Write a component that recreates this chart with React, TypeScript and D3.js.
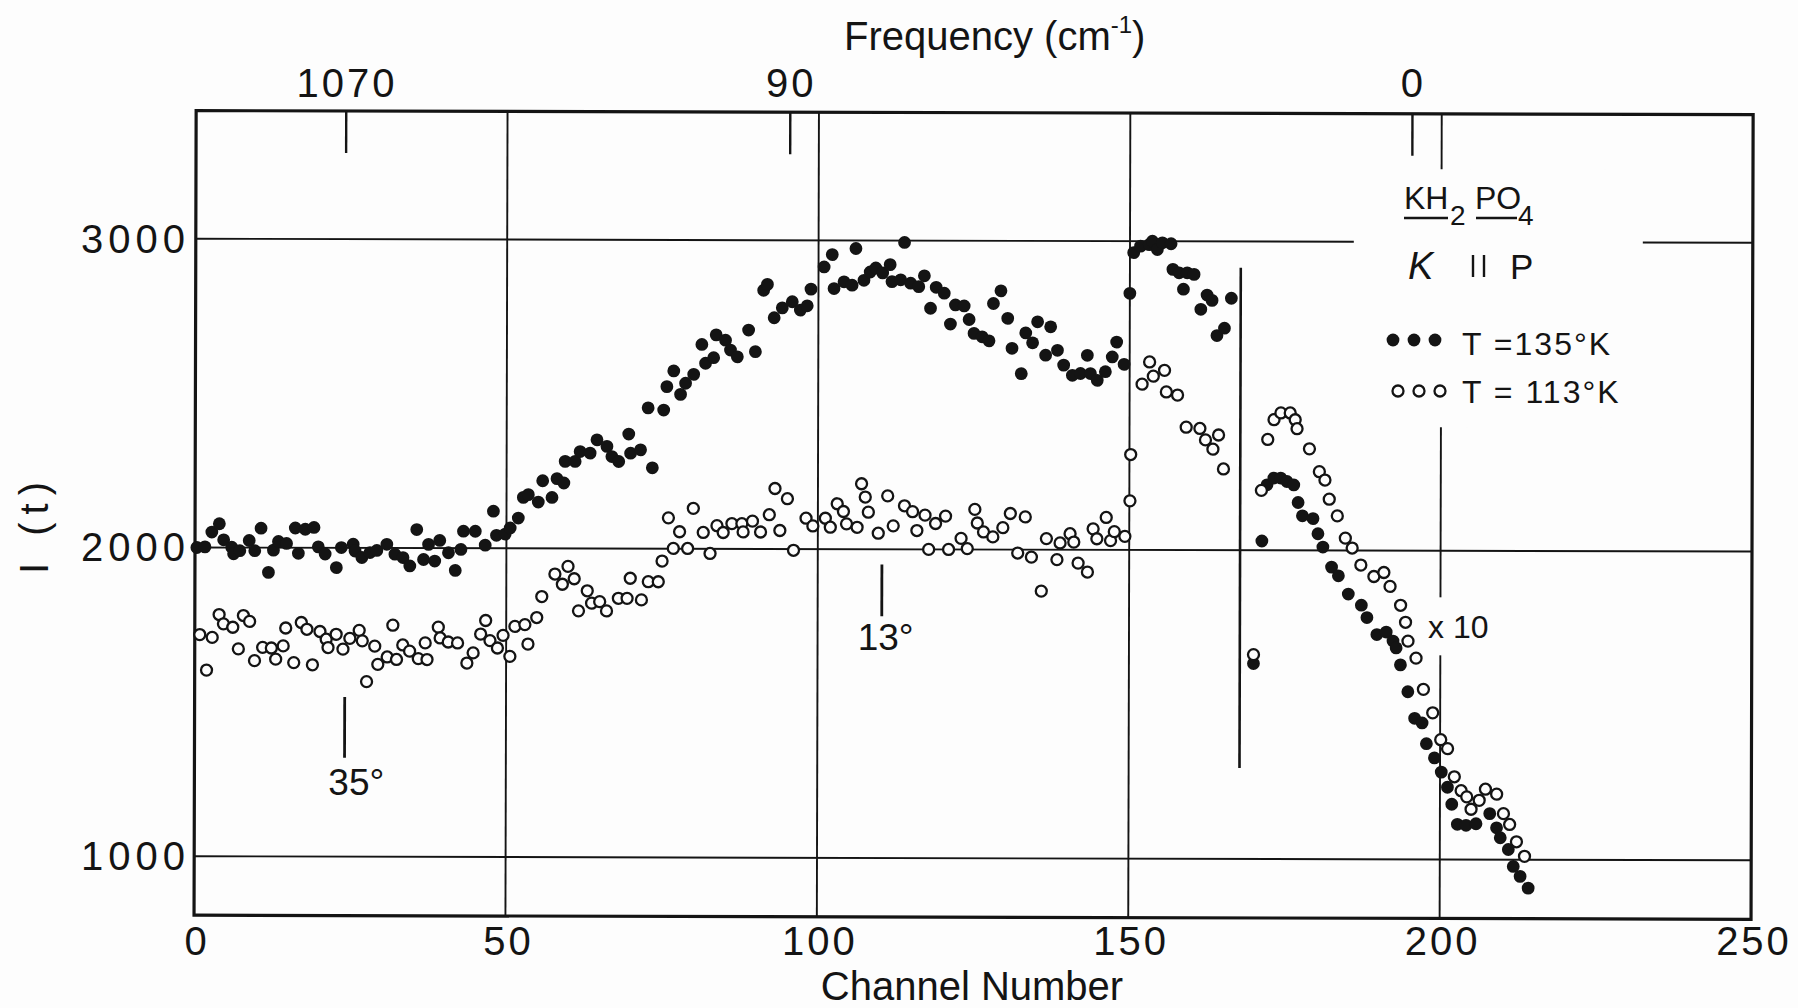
import React from 'react';
import * as d3 from 'd3';

const W = 1798;
const H = 1008;

// axis / tick content
const xTicks = [0, 50, 100, 150, 200, 250];
const yTicks = [1000, 2000, 3000];
const vGridChannels = [50, 100, 150, 200];
const freqLabels = ['1070', '90', '0'];
const freqChannels = [24.1, 95.4, 195.3];

// T = 135 K (filled dots): [channel, intensity]
const filled135: [number, number][] = [
  [0.3, 2000], [1.6, 2002], [2.7, 2050], [3.9, 2077], [4.6, 2025], [5.9, 2001], [6.2, 1980], [7.2, 1990],
  [8.7, 2023], [9.6, 1990], [10.6, 2063], [11.8, 1920], [12.6, 1992], [13.4, 2020], [14.7, 2014], [16.1, 2064],
  [16.6, 1982], [17.7, 2060], [19.1, 2066], [19.8, 2003], [20.9, 1980], [22.7, 1936], [23.5, 2001], [25.4, 2012],
  [25.7, 1990], [26.8, 1969], [28.1, 1985], [29.2, 1992], [30.8, 2012], [32.1, 1980], [33.4, 1969], [34.5, 1942],
  [35.6, 2060], [36.7, 1963], [37.5, 2012], [38.5, 1958], [39.3, 2025], [40.7, 1985], [41.8, 1928], [42.7, 1996],
  [43.1, 2055], [45.0, 2055], [46.6, 2010], [47.9, 2120], [48.4, 2042], [49.8, 2046], [50.6, 2066], [51.9, 2098],
  [52.7, 2165], [53.5, 2174], [55.1, 2150], [55.8, 2219], [57.3, 2165], [58.1, 2226], [59.2, 2212], [59.4, 2282],
  [61.0, 2282], [61.8, 2314], [63.4, 2309], [64.5, 2352], [66.1, 2331], [66.9, 2298], [68.0, 2282], [69.6, 2371],
  [69.9, 2309], [71.5, 2320], [72.7, 2456], [73.4, 2262], [75.2, 2449], [75.7, 2525], [76.8, 2576], [77.9, 2500],
  [78.7, 2536], [80.0, 2565], [81.3, 2662], [81.9, 2601], [83.2, 2619], [83.6, 2693], [85.1, 2676], [85.9, 2644],
  [87.0, 2622], [88.8, 2709], [89.9, 2639], [91.2, 2838], [91.8, 2857], [92.9, 2749], [94.2, 2781], [95.8, 2801],
  [97.1, 2774], [98.2, 2788], [98.8, 2842], [100.9, 2914], [102.2, 2954], [102.5, 2844], [104.1, 2866], [105.4, 2855],
  [106.0, 2974], [107.3, 2871], [108.3, 2898], [109.2, 2911], [110.3, 2895], [111.5, 2922], [111.8, 2867], [113.2, 2873],
  [113.8, 2994], [114.8, 2862], [116.1, 2851], [117.0, 2886], [118.0, 2781], [118.9, 2849], [120.2, 2830], [121.2, 2730],
  [122.0, 2792], [123.4, 2789], [124.2, 2745], [125.0, 2700], [126.3, 2689], [127.4, 2676], [128.1, 2797], [129.3, 2838],
  [130.4, 2749], [131.1, 2652], [132.6, 2570], [133.3, 2702], [134.4, 2670], [135.2, 2738], [136.5, 2630], [137.3, 2722],
  [138.4, 2646], [139.4, 2598], [140.8, 2565], [142.1, 2571], [143.2, 2630], [143.7, 2571], [144.8, 2549], [146.1, 2577],
  [147.2, 2625], [147.9, 2673], [149.1, 2601], [150.0, 2831], [150.6, 2963], [151.7, 2984], [153.1, 2989], [153.6, 3000],
  [154.4, 2973], [155.2, 2995], [156.6, 2992], [156.9, 2909], [157.9, 2898], [158.6, 2845], [159.2, 2898], [160.3, 2893],
  [161.4, 2780], [162.4, 2826], [163.2, 2809], [164.0, 2695], [165.2, 2719], [166.3, 2816], [170.0, 1633], [171.3, 2030],
  [172.1, 2212], [173.2, 2234], [174.3, 2234], [175.3, 2223], [176.4, 2212], [177.1, 2155], [177.8, 2112], [179.5, 2103],
  [180.3, 2054], [181.1, 2011], [182.5, 1946], [183.6, 1918], [185.2, 1859], [187.3, 1823], [188.2, 1783], [189.8, 1728],
  [191.3, 1736], [192.4, 1707], [192.9, 1685], [193.6, 1630], [194.8, 1543], [195.9, 1457], [197.1, 1442], [197.8, 1375],
  [199.1, 1329], [200.2, 1283], [201.2, 1234], [201.9, 1179], [202.8, 1114], [204.2, 1111], [205.8, 1116], [208.0, 1149],
  [209.1, 1103], [209.7, 1071], [211.0, 1033], [211.8, 978], [212.9, 946], [214.2, 908],
];

// T = 113 K (open circles): [channel, intensity]
const open113: [number, number][] = [
  [0.8, 1718], [1.9, 1603], [2.8, 1709], [3.9, 1783], [4.6, 1753], [6.1, 1742], [7.0, 1672], [7.8, 1780],
  [8.8, 1761], [9.6, 1634], [10.9, 1677], [12.3, 1675], [13.0, 1639], [14.2, 1682], [14.6, 1740], [15.9, 1628],
  [17.1, 1758], [18.0, 1736], [18.9, 1621], [20.1, 1729], [21.1, 1704], [21.4, 1677], [22.7, 1720], [23.8, 1672],
  [24.9, 1707], [26.4, 1733], [26.9, 1699], [27.6, 1567], [28.9, 1682], [29.4, 1623], [30.9, 1647], [31.8, 1750],
  [32.4, 1639], [33.4, 1686], [34.5, 1666], [35.9, 1642], [37.0, 1693], [37.3, 1639], [39.1, 1744], [39.4, 1709],
  [40.7, 1696], [42.2, 1693], [43.7, 1628], [44.7, 1661], [45.9, 1722], [46.7, 1766], [47.4, 1701], [48.6, 1677],
  [49.5, 1718], [50.6, 1650], [51.4, 1747], [53.0, 1753], [53.5, 1690], [54.9, 1776], [55.7, 1844], [57.8, 1917],
  [59.0, 1884], [59.9, 1942], [60.9, 1902], [61.6, 1798], [63.0, 1863], [63.7, 1823], [65.0, 1828], [66.1, 1798],
  [68.0, 1839], [69.4, 1839], [69.9, 1904], [71.7, 1834], [72.8, 1893], [74.4, 1893], [75.0, 1960], [76.0, 2100],
  [76.8, 2001], [77.8, 2055], [79.1, 2001], [80.0, 2131], [81.6, 2053], [82.7, 1985], [83.8, 2075], [84.8, 2053],
  [86.2, 2082], [87.8, 2082], [88.0, 2055], [89.5, 2090], [90.8, 2055], [92.2, 2111], [93.1, 2196], [93.9, 2060],
  [95.1, 2163], [96.1, 1996], [98.1, 2100], [99.2, 2075], [101.2, 2100], [102.0, 2071], [103.1, 2147], [104.1, 2122],
  [104.6, 2082], [106.3, 2071], [107.0, 2212], [107.6, 2169], [108.1, 2120], [109.7, 2052], [111.2, 2173], [112.1, 2076],
  [113.9, 2141], [115.2, 2122], [115.9, 2061], [117.2, 2111], [117.8, 2000], [118.9, 2084], [120.5, 2108], [121.0, 2000],
  [123.0, 2036], [124.0, 2003], [125.2, 2130], [125.6, 2086], [126.6, 2057], [128.1, 2041], [129.7, 2071], [130.9, 2117],
  [132.1, 1989], [133.3, 2106], [134.3, 1976], [135.9, 1866], [136.7, 2036], [138.4, 1968], [138.9, 2022], [140.5, 2052],
  [141.1, 2025], [141.8, 1957], [143.3, 1928], [144.2, 2068], [144.8, 2036], [146.3, 2105], [147.0, 2030], [147.6, 2059],
  [149.3, 2044], [150.1, 2159], [150.2, 2309], [152.0, 2537], [153.2, 2609], [153.8, 2563], [155.6, 2582], [155.9, 2512],
  [157.7, 2502], [159.1, 2398], [161.3, 2394], [162.2, 2357], [163.4, 2327], [164.3, 2373], [165.1, 2263], [170.0, 1662],
  [171.2, 2194], [172.2, 2359], [173.2, 2423], [174.3, 2445], [175.8, 2445], [176.6, 2423], [176.9, 2394], [178.9, 2329],
  [180.5, 2255], [181.4, 2228], [182.1, 2166], [183.4, 2112], [184.7, 2040], [185.8, 2008], [187.2, 1953], [189.3, 1916],
  [190.9, 1929], [191.9, 1884], [193.6, 1823], [194.4, 1768], [194.8, 1707], [196.1, 1652], [197.3, 1551], [198.8, 1475],
  [200.1, 1388], [201.2, 1359], [202.3, 1268], [203.4, 1223], [204.3, 1203], [205.0, 1163], [206.3, 1192], [207.3, 1228],
  [209.1, 1212], [210.2, 1149], [211.2, 1114], [212.3, 1058], [213.6, 1011],
];

// annotation anchors (data coordinates)
const dividerLine = { channel: 167.8, from: 2915, to: 1295 };
const angleMarks = [
  { channel: 24.1, from: 1517, to: 1320, label: '35°', labelChannel: 25.9, labelValue: 1198 },
  { channel: 110.3, from: 1951, to: 1783, label: '13°', labelChannel: 110.9, labelValue: 1668 },
];

const FONT = "'Liberation Sans', Arial, sans-serif";
const INK = '#141414';
const BG = '#fdfdfd';

export default function App() {
  const x = d3.scaleLinear().domain([0, 250]).range([195, 1752]);
  const y = d3.scaleLinear().domain([809, 3415]).range([915.2, 110.6]);
  const [x0, x1] = x.range();
  const [yb, yt] = y.range();

  return (
    <svg
      width={W}
      height={H}
      viewBox={`0 0 ${W} ${H}`}
      style={{ position: 'fixed', left: 0, top: 0, background: BG }}
      fontFamily={FONT}
    >
      <rect x={0} y={0} width={W} height={H} fill={BG} />
      <g transform={`rotate(0.15, ${x0}, ${y(2000)})`}>
        {/* horizontal gridlines */}
        {yTicks.map((v) => (
          <line key={`h${v}`} x1={x0} x2={x1} y1={y(v)} y2={y(v)} stroke={INK} strokeWidth={1.9} />
        ))}
        {/* vertical gridlines */}
        {vGridChannels.map((c) => (
          <line key={`v${c}`} x1={x(c)} x2={x(c)} y1={yt} y2={yb} stroke={INK} strokeWidth={1.9} />
        ))}
        {/* blank areas behind legend and x10 label */}
        <rect x={1353} y={166} width={289} height={258} fill={BG} />
        <rect x={1420} y={594} width={76} height={58} fill={BG} />

        {/* frame */}
        <rect x={x0} y={yt} width={x1 - x0} height={yb - yt} fill="none" stroke={INK} strokeWidth={3.2} />

        {/* frequency ticks (top) */}
        {freqChannels.map((c, i) => (
          <line key={`ft${i}`} x1={x(c)} x2={x(c)} y1={yt} y2={yt + 42} stroke={INK} strokeWidth={2.4} />
        ))}

        {/* divider line */}
        <line
          x1={x(dividerLine.channel)} x2={x(dividerLine.channel)}
          y1={y(dividerLine.from)} y2={y(dividerLine.to)}
          stroke={INK} strokeWidth={2.6}
        />

        {/* angle markers */}
        {angleMarks.map((m) => (
          <line key={m.label} x1={x(m.channel)} x2={x(m.channel)} y1={y(m.from)} y2={y(m.to)} stroke={INK} strokeWidth={2.8} />
        ))}

        {/* data */}
        {filled135.map(([c, v], i) => (
          <circle key={`f${i}`} cx={x(c)} cy={y(v)} r={6.4} fill={INK} />
        ))}
        {open113.map(([c, v], i) => (
          <circle key={`o${i}`} cx={x(c)} cy={y(v)} r={5.5} fill={BG} stroke={INK} strokeWidth={2.3} />
        ))}
      </g>

      {/* angle labels */}
      {angleMarks.map((m) => (
        <text key={`al${m.label}`} x={x(m.labelChannel)} y={y(m.labelValue)} fontSize={37} textAnchor="middle" fill={INK}>
          {m.label}
        </text>
      ))}

      {/* y tick labels */}
      {yTicks.map((v) => (
        <text key={`yl${v}`} x={190} y={y(v) + 14} fontSize={40} textAnchor="end" letterSpacing={5} fill={INK}>
          {v}
        </text>
      ))}
      {/* x tick labels */}
      {xTicks.map((v) => (
        <text key={`xl${v}`} x={x(v) + 2} y={955} fontSize={40} textAnchor="middle" letterSpacing={3} fill={INK}>
          {v}
        </text>
      ))}
      {/* frequency labels */}
      {freqLabels.map((s, i) => (
        <text key={`fl${i}`} x={x(freqChannels[i]) + 2} y={97} fontSize={40} textAnchor="middle" letterSpacing={3} fill={INK}>
          {s}
        </text>
      ))}

      {/* axis titles */}
      <text x={844} y={50} fontSize={40} fill={INK}>
        <tspan>Frequency (cm</tspan>
        <tspan fontSize={24} dy={-17}>-1</tspan>
        <tspan dy={17}>)</tspan>
      </text>
      <text x={972} y={1000} fontSize={40} textAnchor="middle" fill={INK}>Channel Number</text>
      <text transform={`translate(48, 524) rotate(-90)`} fontSize={40} textAnchor="middle" letterSpacing={8} fill={INK}>I (t)</text>

      {/* legend: compound and orientation */}
      <text x={1404} y={209} fontSize={32} fill={INK}>KH</text>
      <text x={1450} y={225} fontSize={28} fill={INK}>2</text>
      <text x={1475} y={209} fontSize={32} fill={INK}>PO</text>
      <text x={1518} y={225} fontSize={28} fill={INK}>4</text>
      <line x1={1404} x2={1448} y1={218} y2={218} stroke={INK} strokeWidth={2.4} />
      <line x1={1476} x2={1517} y1={218} y2={218} stroke={INK} strokeWidth={2.4} />

      <text x={1408} y={279} fontSize={38} fontStyle="italic" fill={INK}>K</text>
      <line x1={1473} x2={1473} y1={255} y2={277} stroke={INK} strokeWidth={2.4} />
      <line x1={1484} x2={1484} y1={255} y2={277} stroke={INK} strokeWidth={2.4} />
      <text x={1510} y={279} fontSize={35} fill={INK}>P</text>

      {/* legend: series */}
      {[1393, 1414, 1435].map((cx) => (
        <circle key={`lf${cx}`} cx={cx} cy={340} r={6.4} fill={INK} />
      ))}
      <text x={1462} y={355} fontSize={32} letterSpacing={2} fill={INK}>T =135°K</text>
      {[1398, 1419, 1440].map((cx) => (
        <circle key={`lo${cx}`} cx={cx} cy={391} r={5.5} fill={BG} stroke={INK} strokeWidth={2.3} />
      ))}
      <text x={1462} y={403} fontSize={32} letterSpacing={2} fill={INK}>T = 113°K</text>

      <text x={1428} y={638} fontSize={32} fill={INK}>x 10</text>
    </svg>
  );
}
